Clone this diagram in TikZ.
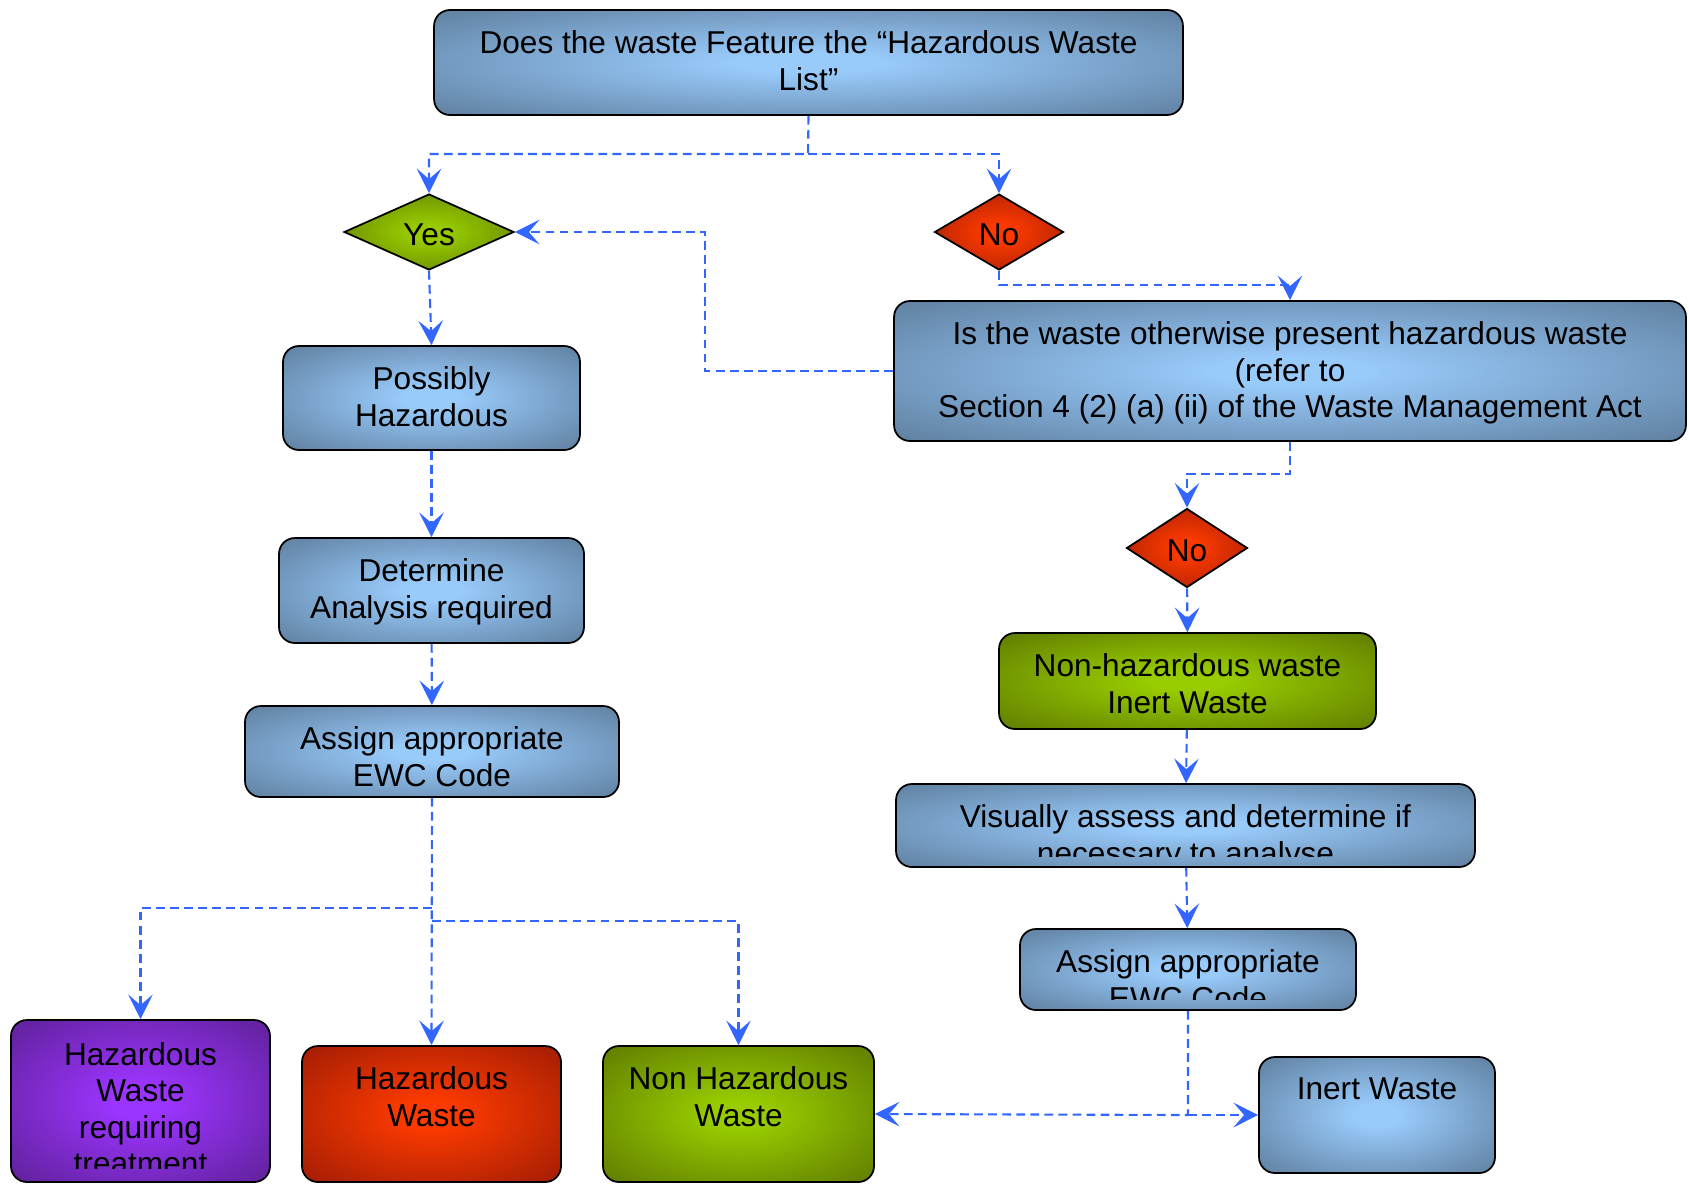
\documentclass[tikz,border=0pt]{standalone}
\usepackage{fontspec}
\setmainfont{Liberation Sans}
\usetikzlibrary{shapes.geometric,arrows.meta}
\definecolor{blueIn}{RGB}{152,202,250}
\definecolor{blueOut}{RGB}{98,131,164}
\definecolor{greenIn}{RGB}{152,204,0}
\definecolor{greenOut}{RGB}{98,128,0}
\definecolor{redIn}{RGB}{252,58,0}
\definecolor{redOut}{RGB}{166,30,4}
\definecolor{purpleIn}{RGB}{156,52,255}
\definecolor{purpleOut}{RGB}{98,34,158}
\definecolor{linkBlue}{RGB}{51,102,255}
\pgfdeclareradialshading{blueshade}{\pgfpoint{0bp}{0bp}}{color(0bp)=(blueIn); color(5bp)=(blueIn); color(34bp)=(blueOut); color(50bp)=(blueOut)}
\pgfdeclareradialshading{greenshade}{\pgfpoint{0bp}{0bp}}{color(0bp)=(greenIn); color(5bp)=(greenIn); color(34bp)=(greenOut); color(50bp)=(greenOut)}
\pgfdeclareradialshading{redshade}{\pgfpoint{0bp}{0bp}}{color(0bp)=(redIn); color(5bp)=(redIn); color(34bp)=(redOut); color(50bp)=(redOut)}
\pgfdeclareradialshading{purpleshade}{\pgfpoint{0bp}{0bp}}{color(0bp)=(purpleIn); color(5bp)=(purpleIn); color(34bp)=(purpleOut); color(50bp)=(purpleOut)}
\begin{document}
\begin{tikzpicture}[x=0.02cm, y=-0.02cm,
    box/.style={draw=black, line width=1pt, rounded corners=9pt, shade, shading=blueshade},
    greenbox/.style={box, shading=greenshade},
    redbox/.style={box, shading=redshade},
    purplebox/.style={box, shading=purpleshade},
    choice/.style={diamond, draw=black, line width=1pt, inner sep=0pt, aspect=2, shade},
    dtxt/.style={inner sep=0pt, font=\fontsize{18}{20.8}\selectfont},
    txt/.style={anchor=north, inner sep=0pt, align=center, font=\fontsize{18}{20.8}\selectfont},
    link/.style={draw=linkBlue, line width=1.2pt, dash pattern=on 5pt off 3pt,
        -{Stealth[length=14pt, width=14pt, inset=6pt]}}]
    \useasboundingbox (0,0) rectangle (1689,1184);

    % boxes
    \node[box, minimum width=14.98cm, minimum height=2.10cm] (q1) at (808.5,62.5) {};
    \node[choice, shading=greenshade, minimum width=3.40cm, minimum height=1.52cm] (yes) at (429,232) {};
    \node[choice, shading=redshade, minimum width=2.58cm, minimum height=1.52cm] (no1) at (999,232) {};
    \node[box, minimum width=15.84cm, minimum height=2.80cm] (q2) at (1290,371) {};
    \node[box, minimum width=5.94cm, minimum height=2.08cm] (poss) at (431.5,398) {};
    \node[box, minimum width=6.10cm, minimum height=2.10cm] (det) at (431.5,590.5) {};
    \node[box, minimum width=7.48cm, minimum height=1.82cm] (ewcl) at (432,751.5) {};
    \node[choice, shading=redshade, minimum width=2.42cm, minimum height=1.58cm] (no2) at (1187,548) {};
    \node[greenbox, minimum width=7.54cm, minimum height=1.92cm] (nonh) at (1187.5,681) {};
    \node[box, minimum width=11.58cm, minimum height=1.66cm] (vis) at (1185.5,825.5) {};
    \node[box, minimum width=6.72cm, minimum height=1.62cm] (ewcr) at (1188,969.5) {};
    \node[box, minimum width=4.72cm, minimum height=2.32cm] (inert) at (1377,1115) {};
    \node[purplebox, minimum width=5.18cm, minimum height=3.24cm] (hwt) at (140.5,1101) {};
    \node[redbox, minimum width=5.18cm, minimum height=2.72cm] (hw) at (431.5,1114) {};
    \node[greenbox, minimum width=5.42cm, minimum height=2.72cm] (nhw) at (738.5,1114) {};

    % texts
    \node[dtxt] (yest) at ([yshift=-1.8pt]yes.center) {Yes};
    \node[dtxt] (no1t) at ([yshift=-1.8pt]no1.center) {No};
    \node[dtxt] (no2t) at ([yshift=-1.8pt]no2.center) {No};
    \node[txt] (q1t) at ([yshift=-12pt]q1.north) {Does the waste Feature the “Hazardous Waste\\List”};
    \node[txt] (q2t) at ([yshift=-12pt]q2.north) {Is the waste otherwise present hazardous waste\\(refer to\\Section 4 (2) (a) (ii) of the Waste Management Act};
    \node[txt] (posst) at ([yshift=-12pt]poss.north) {Possibly\\Hazardous};
    \node[txt] (dett) at ([yshift=-12pt]det.north) {Determine\\Analysis required};
    \node[txt] (ewclt) at ([yshift=-12pt]ewcl.north) {Assign appropriate\\EWC Code};
    \node[txt] (nonht) at ([yshift=-12pt]nonh.north) {Non-hazardous waste\\Inert Waste};
    \node[txt] (inertt) at ([yshift=-12pt]inert.north) {Inert Waste};
    \node[txt] (hwt2) at ([yshift=-12pt]hw.north) {Hazardous\\Waste};
    \node[txt] (nhwt) at ([yshift=-12pt]nhw.north) {Non Hazardous\\Waste};
    \begin{scope}
        \clip (vis.north west) rectangle ([yshift=6.5pt]vis.south east);
        \node[txt] (vist) at ([yshift=-12pt]vis.north) {Visually assess and determine if\\necessary to analyse};
    \end{scope}
    \begin{scope}
        \clip (ewcr.north west) rectangle ([yshift=6.5pt]ewcr.south east);
        \node[txt] (ewcrt) at ([yshift=-12pt]ewcr.north) {Assign appropriate\\EWC Code};
    \end{scope}
    \begin{scope}
        \clip (hwt.north west) rectangle ([yshift=8pt]hwt.south east);
        \node[txt] (hwtt) at ([yshift=-13pt]hwt.north) {Hazardous\\Waste\\requiring\\treatment};
    \end{scope}

    % connectors
    \coordinate (forkTop) at (808,154);
    \coordinate (forkNo) at (999,285);
    \coordinate (backX) at (705,371);
    \coordinate (forkQ) at (1290,474);
    \coordinate (forkL) at (432,908);
    \coordinate (forkR) at (432,921);
    \coordinate (forkB) at (1188,1115);
    \draw[link] (q1.south) -- (forkTop) -| (yes.north);
    \draw[link] (forkTop) -| (no1.north);
    \draw[link] (no1.south) -- (forkNo) -| (q2.north);
    \draw[link] (q2.west) -- (backX) |- (yes.east);
    \draw[link] (yes.south) -- (poss.north);
    \draw[link] (poss) -- (det);
    \draw[link] (det) -- (ewcl);
    \draw[link] (ewcl.south) -- (hw.north);
    \draw[link] (forkL) -| (hwt.north);
    \draw[link] (forkR) -| (nhw.north);
    \draw[link] (q2.south) -- (forkQ) -| (no2.north);
    \draw[link] (no2) -- (nonh);
    \draw[link] (nonh) -- (vis);
    \draw[link] (vis) -- (ewcr);
    \draw[link] (ewcr.south) -- (forkB) -- (nhw.east);
    \draw[link] (forkB) -- (inert.west);
\end{tikzpicture}
\end{document}
